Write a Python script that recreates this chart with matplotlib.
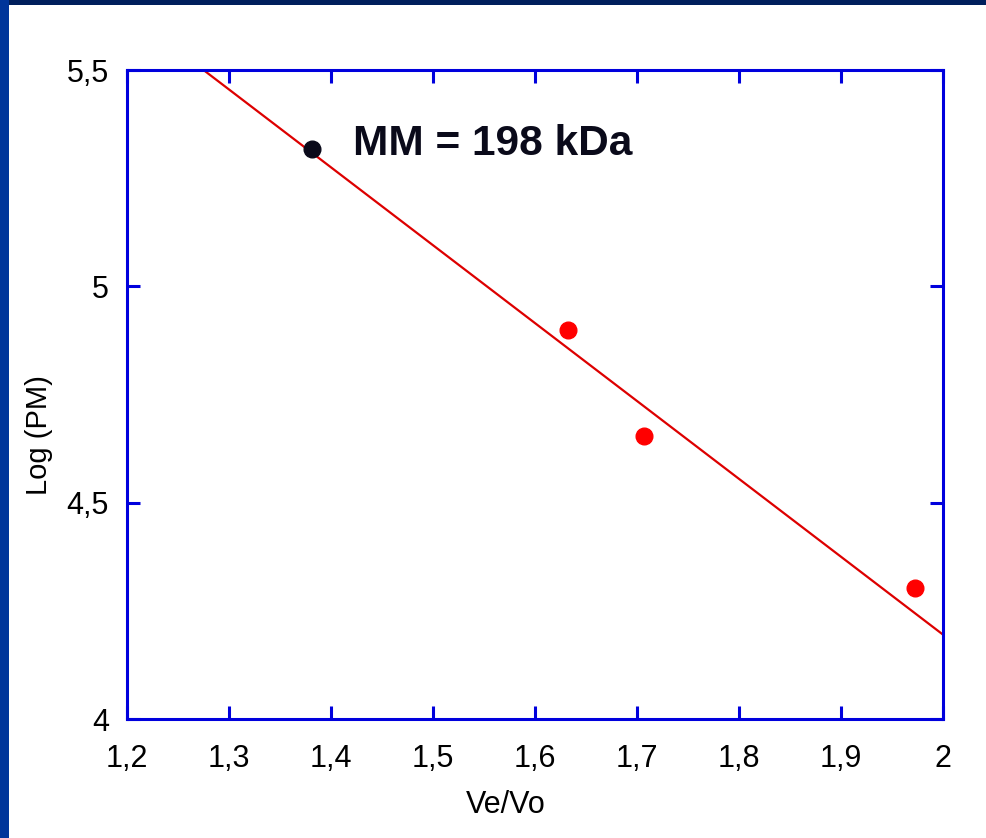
import matplotlib.pyplot as plt
import matplotlib.patches as patches

plt.rcParams['font.family'] = ['Liberation Sans', 'DejaVu Sans']

# calibration standards (Ve/Vo, log of molecular mass)
std_x = [1.632, 1.707, 1.973]
std_y = [4.899, 4.654, 4.303]

# unknown protein
unk_x = [1.381]
unk_y = [5.317]

# fitted line ends
fit_x = [1.275, 2.0]
fit_y = [5.5, 4.195]

x_ticks = [1.2, 1.3, 1.4, 1.5, 1.6, 1.7, 1.8, 1.9, 2.0]
x_labels = ['1,2', '1,3', '1,4', '1,5', '1,6', '1,7', '1,8', '1,9', '2']
y_ticks = [4.0, 4.5, 5.0, 5.5]
y_labels = ['4', '4,5', '5', '5,5']

fig = plt.figure(figsize=(9.86, 8.38), dpi=100)
fig.patch.set_facecolor('white')

# slide background strips
fig.patches.append(patches.Rectangle((0, 1 - 5 / 838), 1, 5 / 838, transform=fig.transFigure,
                                     facecolor='#001f5c', edgecolor='none', zorder=0))
fig.patches.append(patches.Rectangle((0, 0), 9 / 986, 1, transform=fig.transFigure,
                                     facecolor='#00359a', edgecolor='none', zorder=0))

ax = fig.add_axes([127 / 986, 1 - 719 / 838, 816 / 986, 649 / 838])

ax.plot(fit_x, fit_y, color='#dd0000', linewidth=1.6, zorder=2)
ax.plot(std_x, std_y, 'o', color='#ff0000', markersize=12, zorder=3)
ax.plot(unk_x, unk_y, 'o', color='#0a0a1a', markersize=12, zorder=3)

ax.text(1.4216, 5.303, 'MM = 198 kDa', fontsize=30.5, fontweight='bold',
        color='#0a0a1a', va='baseline', ha='left')

ax.set_xlim(1.2, 2.0)
ax.set_ylim(4.0, 5.5)
ax.set_xticks(x_ticks)
ax.set_xticklabels(x_labels)
ax.set_yticks(y_ticks)
ax.set_yticklabels(y_labels)

for s in ax.spines.values():
    s.set_color('#0000dd')
    s.set_linewidth(2.2)

ax.tick_params(direction='in', length=9.5, width=2.2, color='#0000dd',
               top=True, right=True, labelsize=22, labelcolor='black')
ax.tick_params(axis='x', pad=18)
ax.tick_params(axis='y', pad=13)
for lab in ax.get_yticklabels():
    lab.set_va('center_baseline')

ax.set_xlabel('Ve/Vo', fontsize=22)
ax.xaxis.set_label_coords(0.464, -0.133)
ax.xaxis.label.set_va('center')
ax.set_ylabel('Log (PM)', fontsize=21)
ax.yaxis.set_label_coords(-0.108, 0.4376)
ax.yaxis.label.set_va('center')

fig.savefig('out.png', dpi=100)
